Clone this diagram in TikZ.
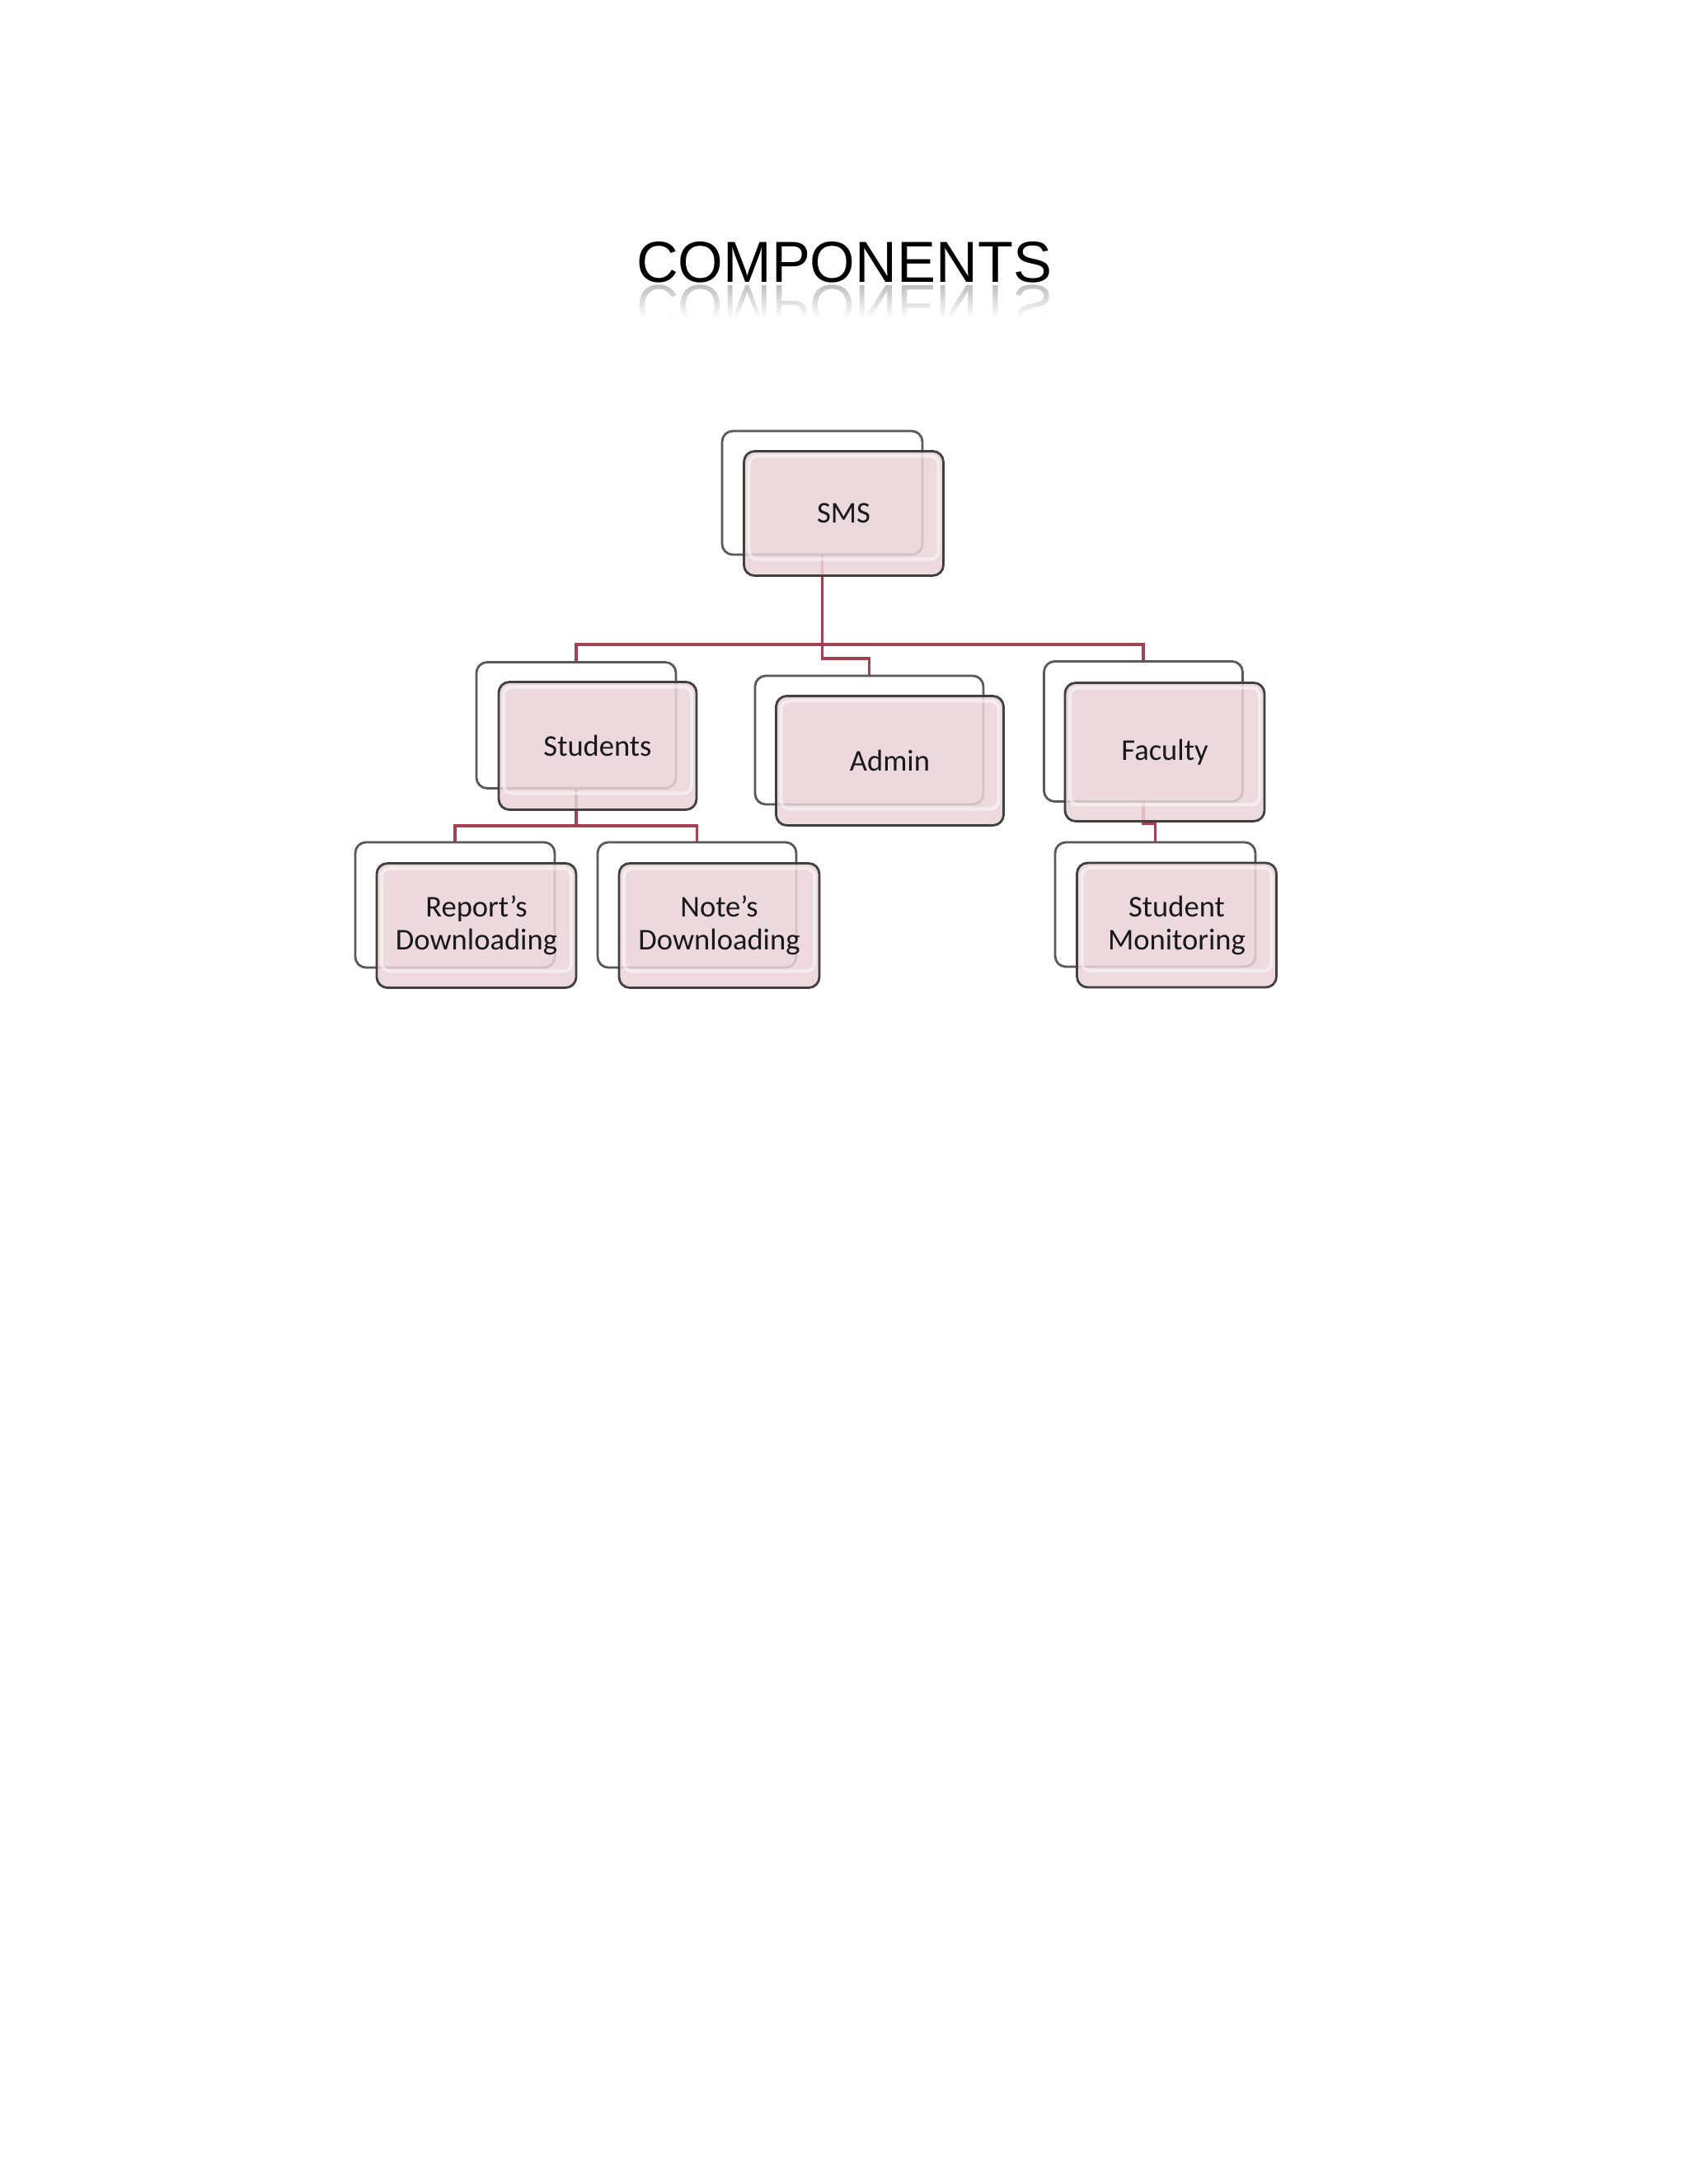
\documentclass[tikz,border=0pt]{standalone}
\usepackage{fontspec}
\usetikzlibrary{backgrounds, fadings}
\newfontfamily\boxfont{Carlito}
\newfontfamily\titlefont{Liberation Sans}
\definecolor{boxpink}{RGB}{233,211,214}
\definecolor{linkred}{RGB}{165,66,82}
\tikzstyle{back} = [rectangle, rounded corners=0.13cm, minimum width=2.42cm, minimum height=1.51cm, inner sep=0pt, outer sep=0pt, draw=black!65, fill=white, line width=0.8pt]
\tikzstyle{front} = [back, draw=black!75, fill=boxpink, fill opacity=0.85, text opacity=1, text=black!90, align=center, font=\boxfont\fontsize{10.4}{11.4}\selectfont, path picture={\draw[white, line width=1.2pt, opacity=0.5, rounded corners=0.1cm] ([shift={(0.06,-0.06)}]path picture bounding box.north west) rectangle ([shift={(-0.06,0.2)}]path picture bounding box.south east);}]
\tikzstyle{title} = [inner sep=0pt, font=\titlefont\fontsize{20}{24}\selectfont]
\tikzstyle{link} = [line width=1.1pt, draw=linkred]

\begin{document}
\begin{tikzpicture}[node distance=0.25cm]
\useasboundingbox (0,0) rectangle (20.48,-26.5);

% title with its reflection
\node[title, anchor=base] (title) at (10.24,-3.42) {COMPONENTS};
\node[title, anchor=base, yscale=-1, transform shape, text=black!25] (mirror) at (10.24,-3.47) {COMPONENTS};
\fill[white, path fading=north] (7.6,-3.46) rectangle (12.9,-3.86);
\fill[white] (7.6,-3.85) rectangle (12.9,-4.1);

% back boxes
\node[back, minimum width=2.43cm, minimum height=1.50cm] (smsB) at (9.975,-5.98) {};
\node[back, minimum height=1.53cm] (studentsB) at (6.99,-8.80) {};
\node[back, minimum width=2.77cm, minimum height=1.56cm] (adminB) at (10.545,-8.98) {};
\node[back, minimum width=2.41cm, minimum height=1.70cm] (facultyB) at (13.87,-8.875) {};
\node[back, minimum height=1.52cm] (reportB) at (5.52,-10.98) {};
\node[back, minimum width=2.41cm, minimum height=1.52cm] (noteB) at (8.455,-10.98) {};
\node[back, minimum width=2.43cm] (monB) at (14.015,-10.975) {};

% front boxes
\node[front, below of=smsB, xshift=0.26cm] (sms) {SMS};
\node[front, below of=studentsB, xshift=0.26cm, minimum width=2.40cm, minimum height=1.55cm] (students) {Students};
\node[front, below of=adminB, xshift=0.25cm, minimum width=2.76cm, minimum height=1.57cm] (admin) {Admin};
\node[front, below of=facultyB, xshift=0.26cm, minimum height=1.68cm] (faculty) {Faculty};
\node[front, below of=reportB, xshift=0.26cm] (report) {Report’s\\Downloading};
\node[front, below of=noteB, xshift=0.27cm, minimum width=2.43cm] (note) {Note’s\\Downloading};
\node[front, below of=monB, xshift=0.26cm] (mon) {Student\\Monitoring};

% connectors
\coordinate (mainbus) at (0,-7.82);
\coordinate (adminbus) at (0,-7.99);
\coordinate (stubus) at (0,-10.02);
\coordinate (facbus) at (0,-9.99);
\begin{pgfonlayer}{background}
\draw[link] (smsB) -- (smsB |- mainbus) -| (studentsB);
\draw[link] (smsB |- mainbus) -| (facultyB);
\draw[link] (smsB) -- (smsB |- adminbus) -| (adminB);
\draw[link] (studentsB) -- (studentsB |- stubus) -| (reportB);
\draw[link] (studentsB |- stubus) -| (noteB);
\draw[link] (facultyB) -- (facultyB |- facbus) -| (monB);
\end{pgfonlayer}

\end{tikzpicture}
\end{document}
